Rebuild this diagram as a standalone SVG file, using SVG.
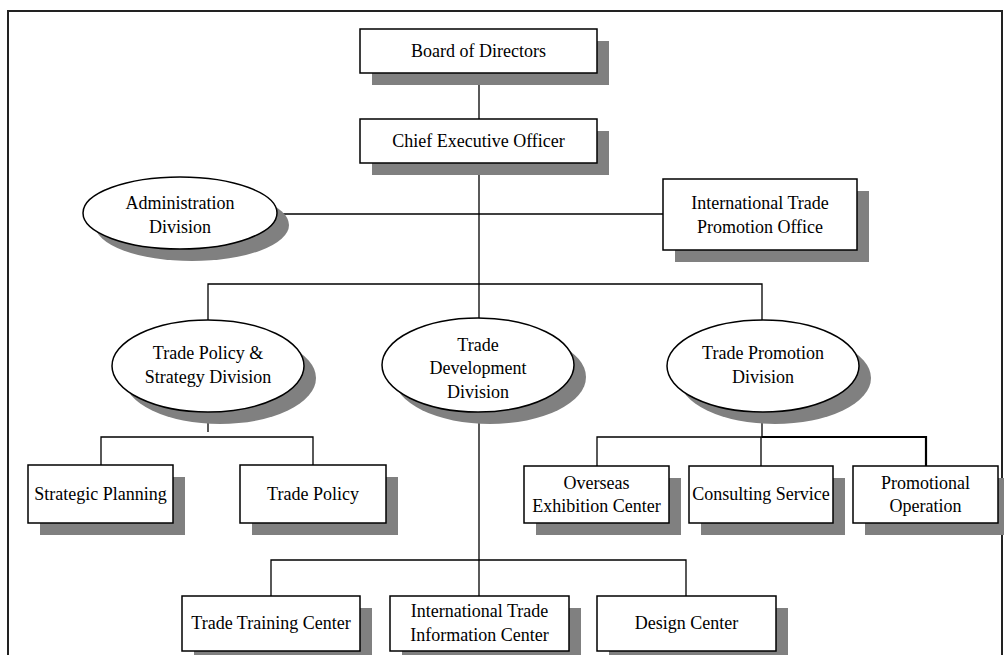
<svg xmlns="http://www.w3.org/2000/svg" width="1004" height="655" viewBox="0 0 1004 655">
<style>
.box{fill:#fff;stroke:#000;stroke-width:1.5}
.sh{fill:#808080;stroke:none}
.ln{fill:none;stroke:#000;stroke-width:1.3}
.thk{fill:none;stroke:#000;stroke-width:2.2}
text{font-family:"Liberation Serif","Times New Roman",serif;font-size:18px;fill:#000;text-anchor:middle}
</style>
<rect x="0" y="0" width="1004" height="655" fill="#fff"/>
<path d="M8,660 V11 H1002 V660" fill="none" stroke="#222" stroke-width="2"/>
<g id="connectors">
<line class="ln" x1="479" y1="73" x2="479" y2="119"/>
<line class="ln" x1="479" y1="163" x2="479" y2="318"/>
<line class="ln" x1="277" y1="214" x2="663" y2="214"/>
<polyline class="ln" points="208,320 208,284 762,284 762,320"/>
<line class="ln" x1="208" y1="412" x2="208" y2="432"/>
<polyline class="ln" points="101,465 101,437 313,437 313,465"/>
<line class="ln" x1="762" y1="412" x2="762" y2="437"/>
<polyline class="ln" points="597,466 597,437 762,437"/>
<line class="ln" x1="761" y1="437" x2="761" y2="466"/>
<polyline class="thk" points="762,437 926,437 926,466"/>
<line class="ln" x1="479" y1="412" x2="479" y2="596"/>
<polyline class="ln" points="271,596 271,560 686,560 686,596"/>
</g>
<g id="board">
<rect class="sh" x="372" y="41" width="237" height="44"/>
<rect class="box" x="360" y="29" width="237" height="44"/>
<text x="478.5" y="57">Board of Directors</text>
</g>
<g id="ceo">
<rect class="sh" x="372" y="131" width="237" height="44"/>
<rect class="box" x="360" y="119" width="237" height="44"/>
<text x="478.5" y="147">Chief Executive Officer</text>
</g>
<g id="admin">
<ellipse class="sh" cx="192" cy="225" rx="97" ry="36"/>
<ellipse class="box" cx="180" cy="213" rx="97" ry="36"/>
<text x="180" y="209">Administration</text>
<text x="180" y="233">Division</text>
</g>
<g id="itpo">
<rect class="sh" x="675" y="191" width="194" height="71"/>
<rect class="box" x="663" y="179" width="194" height="71"/>
<text x="760" y="209">International Trade</text>
<text x="760" y="233">Promotion Office</text>
</g>
<g id="tpsd">
<ellipse class="sh" cx="220" cy="378" rx="96" ry="46"/>
<ellipse class="box" cx="208" cy="366" rx="96" ry="46"/>
<text x="208" y="359">Trade Policy &amp;</text>
<text x="208" y="383">Strategy Division</text>
</g>
<g id="tdd">
<ellipse class="sh" cx="490" cy="377" rx="96" ry="47"/>
<ellipse class="box" cx="478" cy="365" rx="96" ry="47"/>
<text x="478" y="351">Trade</text>
<text x="478" y="374">Development</text>
<text x="478" y="398">Division</text>
</g>
<g id="tpd">
<ellipse class="sh" cx="775" cy="378" rx="96" ry="46"/>
<ellipse class="box" cx="763" cy="366" rx="96" ry="46"/>
<text x="763" y="359">Trade Promotion</text>
<text x="763" y="383">Division</text>
</g>
<g id="strategic">
<rect class="sh" x="40" y="477" width="145" height="58"/>
<rect class="box" x="28" y="465" width="145" height="58"/>
<text x="100.5" y="500">Strategic Planning</text>
</g>
<g id="tradepolicy">
<rect class="sh" x="252" y="477" width="146" height="58"/>
<rect class="box" x="240" y="465" width="146" height="58"/>
<text x="313" y="500">Trade Policy</text>
</g>
<g id="overseas">
<rect class="sh" x="536" y="478" width="145" height="57"/>
<rect class="box" x="524" y="466" width="145" height="57"/>
<text x="596.5" y="489">Overseas</text>
<text x="596.5" y="512">Exhibition Center</text>
</g>
<g id="consulting">
<rect class="sh" x="701" y="478" width="144" height="57"/>
<rect class="box" x="689" y="466" width="144" height="57"/>
<text x="761" y="500">Consulting Service</text>
</g>
<g id="promotional">
<rect class="sh" x="865" y="478" width="145" height="57"/>
<rect class="box" x="853" y="466" width="145" height="57"/>
<text x="925.5" y="489">Promotional</text>
<text x="925.5" y="512">Operation</text>
</g>
<g id="training">
<rect class="sh" x="194" y="608" width="178" height="55"/>
<rect class="box" x="182" y="596" width="178" height="55"/>
<text x="271" y="629">Trade Training Center</text>
</g>
<g id="itic">
<rect class="sh" x="402" y="608" width="179" height="55"/>
<rect class="box" x="390" y="596" width="179" height="55"/>
<text x="479.5" y="617">International Trade</text>
<text x="479.5" y="641">Information Center</text>
</g>
<g id="design">
<rect class="sh" x="609" y="608" width="179" height="55"/>
<rect class="box" x="597" y="596" width="179" height="55"/>
<text x="686.5" y="629">Design Center</text>
</g>
</svg>
